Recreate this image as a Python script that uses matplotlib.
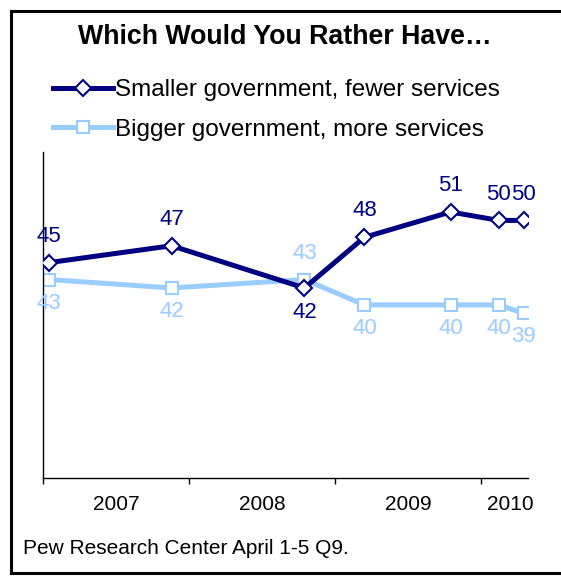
import matplotlib
matplotlib.use("Agg")
import matplotlib.pyplot as plt
from matplotlib.lines import Line2D

plt.rcParams["font.family"] = ["Liberation Sans", "DejaVu Sans"]

# survey dates as decimal years
dates = [2007.04, 2007.88, 2008.79, 2009.20, 2009.79, 2010.12, 2010.29]
smaller = [45, 47, 42, 48, 51, 50, 50]
bigger = [43, 42, 43, 40, 40, 40, 39]
year_ticks = [2007, 2008, 2009, 2010]
year_labels = ["2007", "2008", "2009", "2010"]
year_label_pos = [2007.5, 2008.5, 2009.5, 2010.2]

NAVY = "#000080"
LIGHT = "#99CCFF"

W, H = 561, 577
fig = plt.figure(figsize=(W / 100, H / 100), dpi=100)


def px(x0, y0, x1, y1):
    # pixel box (top-left origin) -> figure fraction rect
    return [x0 / W, 1 - y1 / H, (x1 - x0) / W, (y1 - y0) / H]


ax = fig.add_axes(px(43, 152, 528, 478))

l1, = ax.plot(dates, smaller, color=NAVY, lw=3.6, marker="D", ms=8,
              mfc="white", mec=NAVY, mew=1.5, solid_joinstyle="miter",
              label="Smaller government, fewer services", zorder=3)
l2, = ax.plot(dates, bigger, color=LIGHT, lw=3.6, marker="s", ms=8,
              mfc="white", mec=LIGHT, mew=1.5, solid_joinstyle="miter",
              label="Bigger government, more services", zorder=2)

for i, (d, v) in enumerate(zip(dates, smaller)):
    dy = -17.5 if v < bigger[i] else 19
    ax.annotate(str(v), (d, v), xytext=(0, dy), textcoords="offset points",
                ha="center", va="center", fontsize=16, color=NAVY)
for i, (d, v) in enumerate(zip(dates, bigger)):
    dy = 18.5 if v > smaller[i] else -17
    ax.annotate(str(v), (d, v), xytext=(0, dy), textcoords="offset points",
                ha="center", va="center", fontsize=16, color=LIGHT)

ax.set_xlim(2007.0, 2010.32)
ax.set_ylim(19.5, 58.1)
ax.spines["top"].set_visible(False)
ax.spines["right"].set_visible(False)
ax.spines["left"].set_linewidth(1)
ax.spines["bottom"].set_linewidth(1)
ax.set_yticks([])
ax.set_xticks(year_ticks)
ax.set_xticklabels([])
ax.tick_params(axis="x", which="major", length=4, width=1, direction="out")
ax.set_xticks(year_label_pos, minor=True)
ax.set_xticklabels(year_labels, minor=True)
ax.tick_params(axis="x", which="minor", length=0, pad=12, labelsize=15)

fig.text(285 / W, 1 - 37 / H, "Which Would You Rather Have…", ha="center",
         va="center", fontsize=19.3, fontweight="bold")

fig.legend(handles=[l1, l2], loc="upper left",
           bbox_to_anchor=(53 / W, 1 - 79 / H), frameon=False,
           fontsize=17.5, handlelength=2.45, handletextpad=0.1,
           labelspacing=0.72, borderpad=0, borderaxespad=0)

fig.text(23 / W, 1 - 548 / H, "Pew Research Center April 1-5 Q9.",
         ha="left", va="center", fontsize=15)

# outer frame (right edge falls outside the image)
for xs, ys in [([11, 11], [11, 573]), ([11, 570], [11, 11]), ([11, 570], [573, 573])]:
    fig.add_artist(Line2D([x / W for x in xs], [1 - y / H for y in ys],
                          color="black", lw=2.2, transform=fig.transFigure))

fig.savefig("out.png", dpi=100)
